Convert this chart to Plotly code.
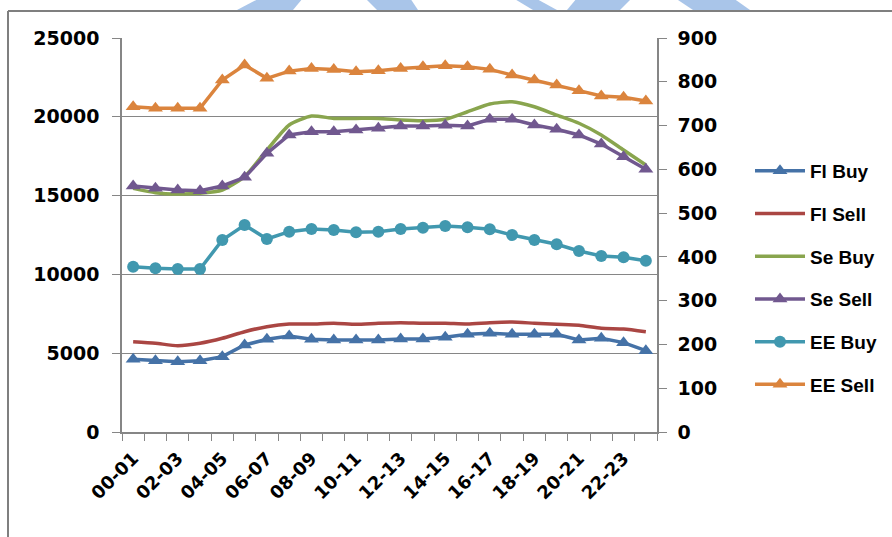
import plotly.graph_objects as go

# ---------------- data ----------------
categories = [f"{h:02d}-{h+1:02d}" for h in range(24)]
tick_labels = categories[::2]

fi_buy = [4610, 4525, 4460, 4525, 4780, 5520, 5880, 6090, 5880, 5840, 5840, 5840,
          5900, 5900, 6010, 6200, 6260, 6200, 6200, 6200, 5840, 5945, 5670, 5160]
fi_sell = [5730, 5630, 5480, 5630, 5945, 6365, 6680, 6850, 6850, 6900, 6830, 6900,
           6940, 6900, 6900, 6850, 6940, 6980, 6900, 6830, 6770, 6580, 6535, 6365]
se_buy = [15460, 15185, 15100, 15145, 15355, 16200, 17890, 19480, 20050, 19900, 19900, 19900,
          19800, 19750, 19840, 20320, 20810, 20960, 20640, 20110, 19590, 18845, 17890, 16940]
se_sell = [15610, 15460, 15355, 15310, 15610, 16160, 17680, 18845, 19055, 19055, 19160, 19270,
           19415, 19415, 19460, 19415, 19840, 19840, 19480, 19205, 18845, 18270, 17470, 16670]
ee_buy = [10490, 10385, 10340, 10340, 12180, 13135, 12245, 12710, 12880, 12815, 12670, 12710,
          12880, 12965, 13070, 12985, 12860, 12500, 12180, 11910, 11485, 11170, 11085, 10870]
ee_sell = [20640, 20540, 20540, 20540, 22335, 23290, 22440, 22900, 23070, 23000, 22860, 22920,
           23070, 23180, 23240, 23180, 23010, 22650, 22335, 22020, 21660, 21320, 21240, 21000]

left_ticks = [0, 5000, 10000, 15000, 20000, 25000]
right_ticks = [0, 100, 200, 300, 400, 500, 600, 700, 800, 900]

# ---------------- layout constants ----------------
W, H = 892, 537
ML, MR, MT, MB = 122, 235, 38, 105
PW, PH = W - ML - MR, H - MT - MB
GRAY = "#868686"
YFONT = dict(family="DejaVu Sans, Arial, sans-serif", size=19, color="black", weight="bold")
XFONT = dict(family="DejaVu Sans, Arial, sans-serif", size=18, color="black", weight="bold")
LFONT = dict(family="Liberation Sans, Arial, sans-serif", size=19, color="black", weight="bold")


def px(x):
    return (x - ML) / PW


def py(y):
    return 1 - (y - MT) / PH


series = [
    ("Fl Buy", fi_buy, "#4572A7", "triangle-up", "linear"),
    ("Fl Sell", fi_sell, "#AA4643", None, "spline"),
    ("Se Buy", se_buy, "#89A54E", None, "spline"),
    ("Se Sell", se_sell, "#71588F", "triangle-up", "linear"),
    ("EE Buy", ee_buy, "#4198AF", "circle", "linear"),
    ("EE Sell", ee_sell, "#DB843D", "triangle-up", "linear"),
]

fig = go.Figure()
for name, vals, color, sym, shape in series:
    fig.add_trace(go.Scatter(
        x=categories, y=vals, name=name, legendgroup=name,
        mode="lines+markers" if sym else "lines",
        line=dict(color=color, width=3.5, shape=shape, smoothing=0.6 if shape == "spline" else None),
        marker=dict(symbol=sym or "circle", size=13 if sym == "triangle-up" else 12, color=color),
    ))

# invisible trace to carry the secondary axes
fig.add_trace(go.Scatter(x=[None], y=[None], yaxis="y2", xaxis="x2", showlegend=False, hoverinfo="skip"))

shapes = []
# outer frame (top and left edges of the chart box)
shapes.append(dict(type="line", xref="paper", yref="paper", x0=px(8), x1=px(W + 5), y0=py(11), y1=py(11),
                   line=dict(color="#7f7f7f", width=2)))
shapes.append(dict(type="line", xref="paper", yref="paper", x0=px(8), x1=px(8), y0=py(11), y1=py(H + 5),
                   line=dict(color="#7f7f7f", width=2)))
# light blue watermark fragments at the top
wm = [
    [(260, -2), (303, -2), (293, 10), (237, 10)],
    [(365, -2), (410, -2), (418, 10), (377, 10)],
    [(513, -2), (535, -2), (557, 10), (533, 10)],
    [(577, -2), (632, -2), (620, 10), (567, 10)],
    [(675, -2), (733, -2), (750, 10), (693, 10)],
]
for poly in wm:
    path = "M " + " L ".join(f"{px(a):.5f},{py(b):.5f}" for a, b in poly) + " Z"
    shapes.append(dict(type="path", xref="paper", yref="paper", path=path,
                       fillcolor="#a9c5e9", line=dict(width=0), layer="below"))

fig.update_layout(
    width=W, height=H,
    margin=dict(l=ML, r=MR, t=MT, b=MB, autoexpand=False),
    paper_bgcolor="white", plot_bgcolor="white",
    font=LFONT,
    showlegend=True,
    legend=dict(x=px(750), xanchor="left", y=py(152), yanchor="top",
                font=LFONT, tracegroupgap=15, itemwidth=50, bgcolor="rgba(0,0,0,0)"),
    xaxis=dict(type="category", categoryorder="array", categoryarray=categories,
               range=[-0.5, 23.5], tickvals=tick_labels, ticktext=tick_labels,
               tickangle=-45, ticks="", showgrid=False, showline=True, linecolor=GRAY, linewidth=1.5,
               tickfont=XFONT, zeroline=False, automargin=False, ticklabelstandoff=7),
    xaxis2=dict(overlaying="x", range=[-0.5, 23.5], tickvals=[i - 0.5 for i in range(25)],
                ticks="outside", ticklen=8, tickcolor=GRAY, showticklabels=False,
                showgrid=False, showline=False, zeroline=False, side="bottom", anchor="y"),
    yaxis=dict(range=[0, 25000], tickvals=left_ticks, ticktext=[str(v) for v in left_ticks],
               ticks="outside", ticklen=8, tickcolor=GRAY, ticklabelstandoff=9,
               showgrid=True, gridcolor=GRAY, gridwidth=1, showline=True, linecolor=GRAY, linewidth=1.5,
               zeroline=False, tickfont=YFONT, automargin=False),
    yaxis2=dict(overlaying="y", side="right", range=[0, 900], tickvals=right_ticks,
                ticktext=[str(v) for v in right_ticks], ticks="outside", ticklabelstandoff=7,
                ticklen=8, tickcolor=GRAY, showgrid=False, showline=True, linecolor=GRAY, linewidth=1.5,
                zeroline=False, tickfont=YFONT, anchor="x", automargin=False),
    shapes=shapes,
)

fig.write_html("out.html", config={"displayModeBar": False},
               post_script="document.body.style.margin='0';")
